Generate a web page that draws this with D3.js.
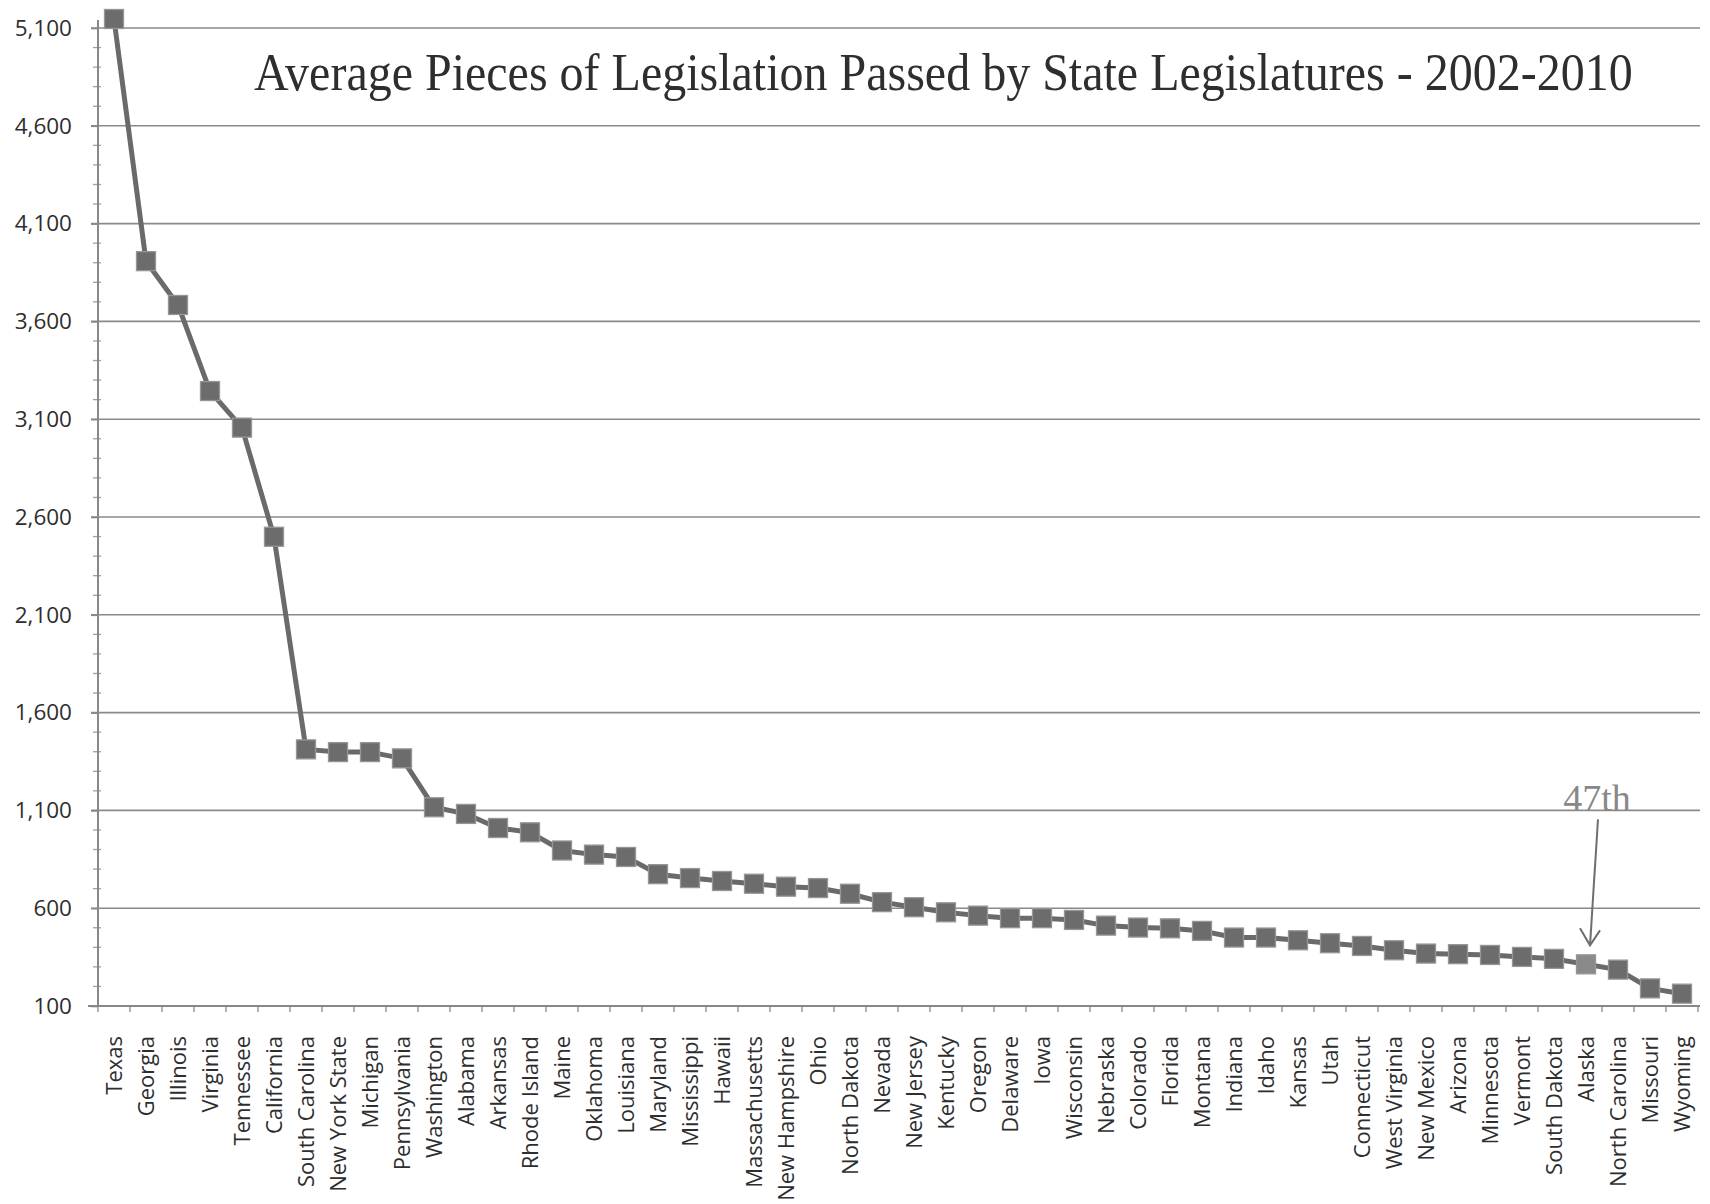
<!DOCTYPE html>
<html>
<head>
<meta charset="utf-8">
<script src="https://cdn.jsdelivr.net/npm/d3@7"></script>
<style>
  html, body { margin: 0; padding: 0; background: #fff; }
  svg { display: block; }
</style>
</head>
<body>
<svg id="chart" width="1710" height="1204"></svg>
<script>
// States ranked by average bills passed per session, 2002-2010
const categories = [
  "Texas", "Georgia", "Illinois", "Virginia", "Tennessee", "California",
  "South Carolina", "New York State", "Michigan", "Pennsylvania", "Washington",
  "Alabama", "Arkansas", "Rhode Island", "Maine", "Oklahoma", "Louisiana",
  "Maryland", "Mississippi", "Hawaii", "Massachusetts", "New Hampshire", "Ohio",
  "North Dakota", "Nevada", "New Jersey", "Kentucky", "Oregon", "Delaware",
  "Iowa", "Wisconsin", "Nebraska", "Colorado", "Florida", "Montana", "Indiana",
  "Idaho", "Kansas", "Utah", "Connecticut", "West Virginia", "New Mexico",
  "Arizona", "Minnesota", "Vermont", "South Dakota", "Alaska", "North Carolina",
  "Missouri", "Wyoming"
];

const values = [
  5146, 3908, 3684, 3244, 3057, 2499,
  1412, 1398, 1398, 1366, 1116,
  1082, 1010, 988, 895, 874, 862,
  774, 754, 739, 725, 710, 703,
  674, 631, 605, 579, 562, 549,
  549, 540, 511, 501, 497, 484, 450,
  450, 436, 421, 407, 385, 368,
  365, 361, 351, 341, 313, 286,
  190, 163
];

const yTicks = [100, 600, 1100, 1600, 2100, 2600, 3100, 3600, 4100, 4600, 5100];
const titleText = "Average Pieces of Legislation Passed by State Legislatures - 2002-2010";
const highlightState = "Alaska";
const highlightLabel = "47th";

const svg = d3.select("#chart");
const plotLeft = 98, plotRight = 1698, plotTop = 28, plotBottom = 1006;

const x = d3.scaleBand().domain(categories).range([plotLeft, plotRight]).padding(0);
const y = d3.scaleLinear().domain([100, 5100]).range([plotBottom, plotTop]);
const cx = d => x(d) + x.bandwidth() / 2;

const data = categories.map((c, i) => ({ cat: c, v: values[i] }));

// horizontal gridlines
svg.append("g")
  .selectAll("line")
  .data(yTicks.filter(t => t !== 100))
  .join("line")
  .attr("x1", plotLeft - 7).attr("x2", plotRight + 2)
  .attr("y1", d => y(d)).attr("y2", d => y(d))
  .attr("stroke", "#8a8a8a").attr("stroke-width", 1.6);

// minor ticks on the value axis every 100
svg.append("g")
  .selectAll("line")
  .data(d3.range(100, 5101, 100).filter(v => (v - 100) % 500 !== 0))
  .join("line")
  .attr("x1", plotLeft - 5).attr("x2", plotLeft + 3)
  .attr("y1", d => y(d)).attr("y2", d => y(d))
  .attr("stroke", "#a0a0a0").attr("stroke-width", 1.3);

// value axis
const yAxis = svg.append("g")
  .attr("transform", `translate(${plotLeft},0)`)
  .call(d3.axisLeft(y).tickValues(yTicks).tickSize(7).tickPadding(19).tickFormat(d3.format(",")));
yAxis.select(".domain").attr("stroke", "#888").attr("stroke-width", 2).attr("d", `M0,${plotTop - 8}V${plotBottom}`);
yAxis.selectAll(".tick line").attr("stroke", "#888").attr("stroke-width", 1.6);
yAxis.selectAll(".tick text")
  .attr("fill", "#2e2e2e")
  .style("font-family", "'Open Sans', sans-serif")
  .style("font-size", "22.5px");

// category axis
const xAxis = svg.append("g")
  .attr("transform", `translate(0,${plotBottom})`)
  .call(d3.axisBottom(x).tickSize(0).tickPadding(0));
xAxis.select(".domain").attr("stroke", "#888").attr("stroke-width", 2).attr("d", `M${plotLeft - 10},0H${plotRight + 2}`);
xAxis.selectAll(".tick text")
  .attr("transform", "rotate(-90)")
  .attr("text-anchor", "end")
  .attr("x", -30)
  .attr("y", 0)
  .attr("dy", "0.36em")
  .attr("fill", "#2e2e2e")
  .style("font-family", "'Open Sans', sans-serif")
  .style("font-size", "22px");

// tick marks at category boundaries
const bounds = categories.map(c => x(c)).concat([plotRight]);
svg.append("g")
  .selectAll("line")
  .data(bounds)
  .join("line")
  .attr("x1", d => d).attr("x2", d => d)
  .attr("y1", plotBottom).attr("y2", plotBottom + 6)
  .attr("stroke", "#8a8a8a").attr("stroke-width", 1.3);

// series line
svg.append("path")
  .datum(data)
  .attr("fill", "none")
  .attr("stroke", "#6a6a6a")
  .attr("stroke-width", 5)
  .attr("stroke-linejoin", "round")
  .attr("d", d3.line().x(d => cx(d.cat)).y(d => y(d.v)));

// square markers
const m = 19;
svg.append("g")
  .selectAll("rect")
  .data(data)
  .join("rect")
  .attr("x", d => cx(d.cat) - m / 2)
  .attr("y", d => y(d.v) - m / 2)
  .attr("width", m).attr("height", m)
  .attr("fill", d => d.cat === highlightState ? "#8a8a8a" : "#6c6c6c")
  .attr("stroke", "#969696")
  .attr("stroke-width", 1.3);

// rank callout
const hl = data.find(d => d.cat === highlightState);
const hx = cx(hl.cat), hy = y(hl.v);
const tipX = hx + 4, tipY = hy - 19;
const startX = hx + 12, startY = tipY - 126;
const ann = svg.append("g").attr("stroke", "#6e6e6e").attr("stroke-width", 2).attr("fill", "none");
ann.append("line").attr("x1", startX).attr("y1", startY).attr("x2", tipX).attr("y2", tipY);
ann.append("path").attr("d", `M${tipX - 10},${tipY - 17}L${tipX},${tipY}L${tipX + 10},${tipY - 15}`);
svg.append("text")
  .attr("x", startX - 1).attr("y", startY - 8)
  .attr("text-anchor", "middle")
  .attr("fill", "#888")
  .style("font-family", "'Liberation Serif', serif")
  .style("font-size", "38px")
  .text(highlightLabel);

// title, squeezed horizontally to the available width
const titleWidth = 1379;
const titleG = svg.append("g");
const title = titleG.append("text")
  .attr("x", 0).attr("y", 0)
  .attr("fill", "#2e2e2e")
  .style("font-family", "'Liberation Serif', serif")
  .style("font-size", "52px")
  .text(titleText);
const tw = title.node().getComputedTextLength();
const k = Math.min(1, titleWidth / tw);
titleG.attr("transform", `translate(254,90) scale(${k},1)`);
</script>
</body>
</html>
